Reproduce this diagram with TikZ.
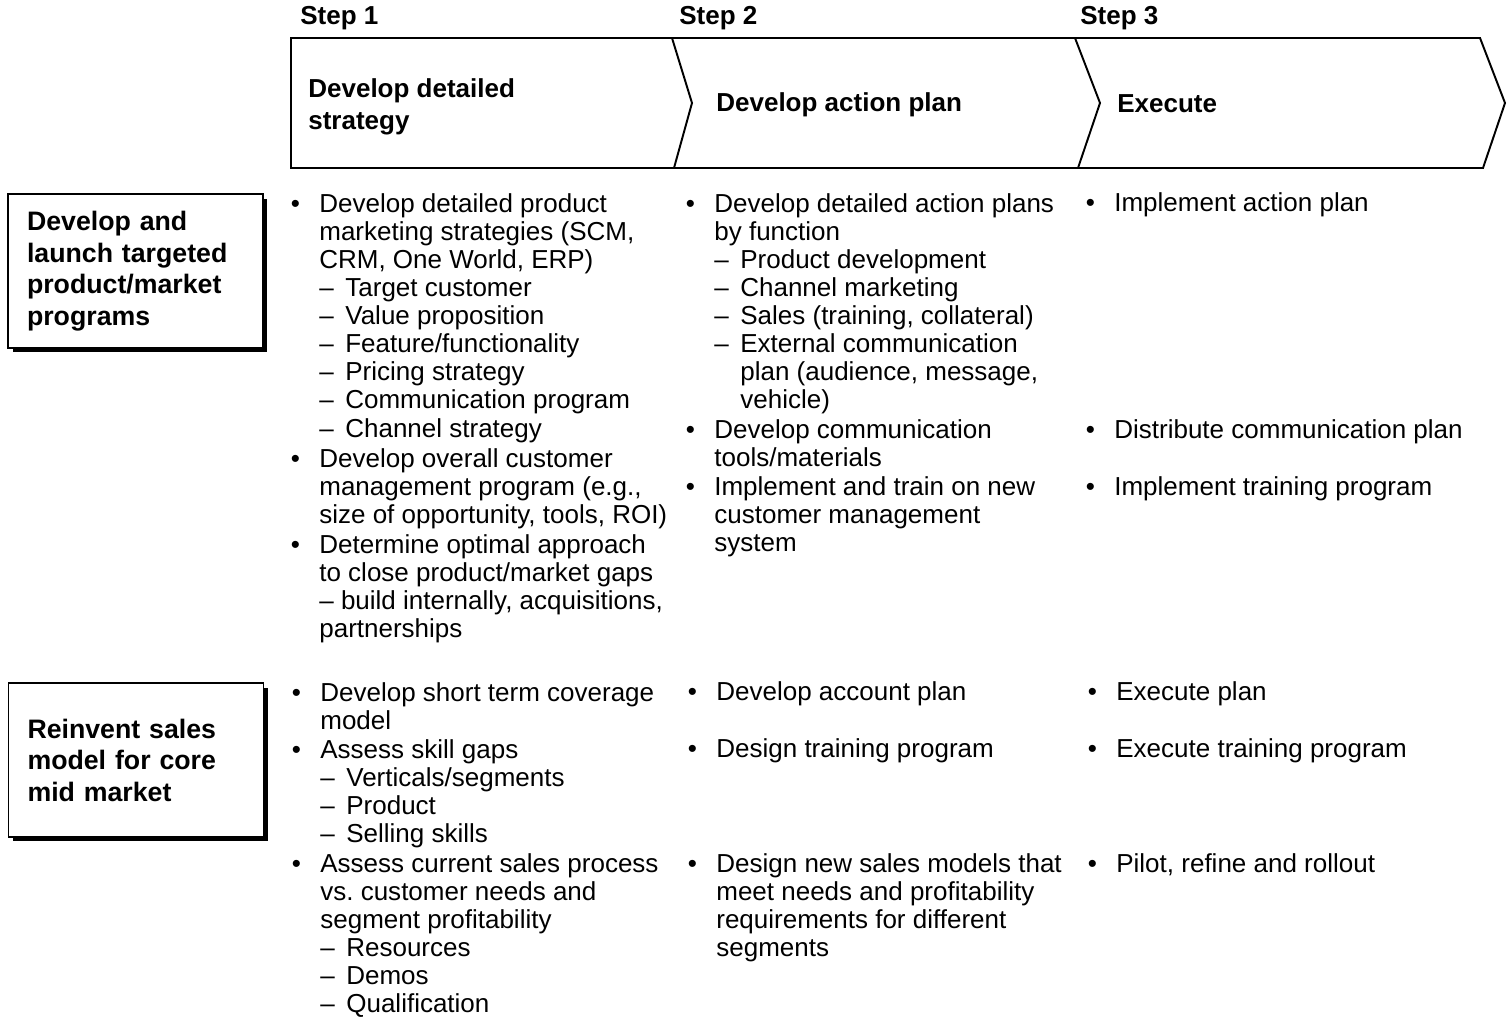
\documentclass[tikz,border=0pt]{standalone}
\usepackage{fontspec}
\setmainfont{Liberation Sans}
\usepackage{tikz}
\usetikzlibrary{shadows}
\frenchspacing

\newcommand{\itemfont}{\fontsize{14.8}{16}\selectfont}
\newcommand{\headfont}{\fontsize{14.8}{18}\selectfont\bfseries}
\newcommand{\progfont}{\fontsize{15.2}{17.9}\selectfont\bfseries}
% vineta, guion de sub-punto y sangria de continuacion
\newcommand{\bul}{\llap{•\hspace{11pt}}}
\newcommand{\subi}[1]{\makebox[14.8pt][l]{--}#1}
\newcommand{\subc}{\hspace*{14.8pt}}

\tikzset{
  chev/.style={line width=1.1pt, line join=miter},
  steplbl/.style={anchor=west, inner sep=0pt, font=\headfont},
  headlbl/.style={anchor=west, inner sep=0pt, align=left, font=\headfont},
  progbox/.style={draw, line width=1pt, fill=white, minimum width=5.1cm,
    minimum height=3.08cm, inner xsep=0.38cm, text width=4.34cm, align=left,
    font=\progfont, drop shadow={shadow xshift=0.09cm, shadow yshift=-0.09cm,
    fill=black, opacity=1}},
  bullet/.style={anchor=north west, inner sep=0pt, align=left, font=\itemfont}
}

\begin{document}
\begin{tikzpicture}[x=0.02cm, y=-0.02cm]
\useasboundingbox (0,0) rectangle (1507,1017);

% Barra de pasos
\draw[chev] (291,38) -- (1480,38) -- (1505,103) -- (1483,168) -- (291,168) -- cycle;
\foreach \xa/\xb/\xc in {672/692/674, 1075/1100/1078} {\draw[chev] (\xa,38) -- (\xb,103) -- (\xc,168);}

\foreach \i/\x in {1/300, 2/679, 3/1080} {\node[steplbl] (s\i) at (\x,18) {Step \i};}
\node[headlbl] (h1) at (308,107) {Develop detailed\\strategy};
\node[headlbl] (h2) at (716,105) {Develop action plan};
\node[headlbl] (h3) at (1117,104) {Execute};

% Programas
\node[progbox] (prog1) at (135.5,271) {Develop and\\launch targeted\\product/market\\programs};
\node[progbox] (prog2) at (136,760) {Reinvent sales\\model for core\\mid market};

% Fila 1
\node[bullet] (a11) at (319,193) {\bul Develop detailed product\\marketing strategies (SCM,\\CRM, One World, ERP)\\
  \subi{Target customer}\\\subi{Value proposition}\\\subi{Feature/functionality}\\
  \subi{Pricing strategy}\\\subi{Communication program}\\\subi{Channel strategy}};
\node[bullet] (a12) at (319,448) {\bul Develop overall customer\\management program (e.g.,\\size of opportunity, tools, ROI)};
\node[bullet] (a13) at (319,534) {\bul Determine optimal approach\\to close product/market gaps\\-- build internally, acquisitions,\\partnerships};

\node[bullet] (a21) at (714,193) {\bul Develop detailed action plans\\by function\\\subi{Product development}\\
  \subi{Channel marketing}\\\subi{Sales (training, collateral)}\\\subi{External communication}\\
  \subc plan (audience, message,\\\subc vehicle)};
\node[bullet] (a22) at (714,419) {\bul Develop communication\\tools/materials};
\node[bullet] (a23) at (714,476) {\bul Implement and train on new\\customer management\\system};

\node[bullet] (a31) at (1114,192) {\bul Implement action plan};
\node[bullet] (a32) at (1114,419) {\bul Distribute communication plan};
\node[bullet] (a33) at (1114,476) {\bul Implement training program};

% Fila 2
\node[bullet] (b11) at (320,682) {\bul Develop short term coverage\\model};
\node[bullet] (b12) at (320,739) {\bul Assess skill gaps\\\subi{Verticals/segments}\\\subi{Product}\\\subi{Selling skills}};
\node[bullet] (b13) at (320,853) {\bul Assess current sales process\\vs. customer needs and\\segment profitability\\
  \subi{Resources}\\\subi{Demos}\\\subi{Qualification}};

\node[bullet] (b21) at (716,681) {\bul Develop account plan};
\node[bullet] (b22) at (716,738) {\bul Design training program};
\node[bullet] (b23) at (716,853) {\bul Design new sales models that\\meet needs and profitability\\requirements for different\\segments};

\node[bullet] (b31) at (1116,681) {\bul Execute plan};
\node[bullet] (b32) at (1116,738) {\bul Execute training program};
\node[bullet] (b33) at (1116,853) {\bul Pilot, refine and rollout};

\end{tikzpicture}
\end{document}
